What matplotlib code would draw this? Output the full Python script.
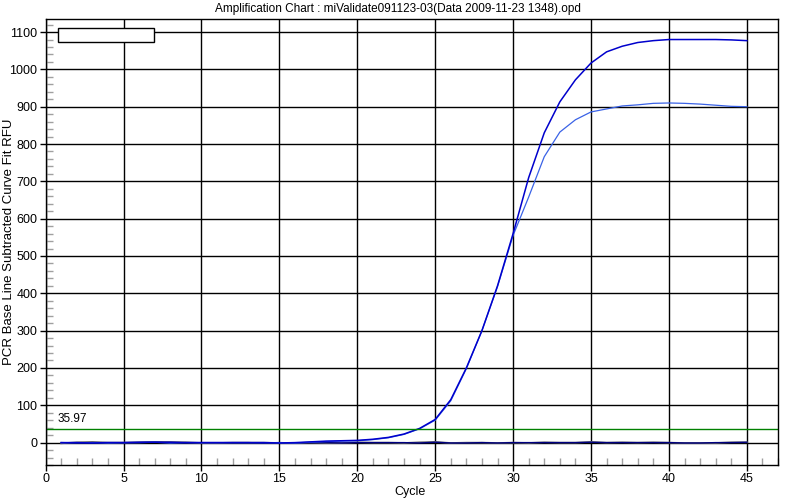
import numpy as np
import matplotlib.pyplot as plt
from matplotlib.patches import Rectangle
from matplotlib.ticker import MultipleLocator

plt.rcParams['font.family'] = ['Liberation Sans', 'DejaVu Sans']

# cycles 1..45
cycles = np.arange(1, 46)

# sample A (dark blue, plateau ~1080)
sample_a = [0, 0, -1, 0, 0, 1, 1, 1, 0, 0, 0, 0, 0, 0, -1, 0, 2, 4, 5, 6,
            9, 14, 23, 38, 62, 115, 200, 300, 420, 560, 710, 830, 913, 972, 1017,
            1047, 1062, 1072, 1077, 1080, 1080, 1080, 1080, 1079, 1077]

# sample B (lighter blue, plateau ~900)
sample_b = [0, 0, 0, -1, 0, 0, 1, -1, 0, 0, 0, 0, 0, 0, 0, -1, 1, 3, 4, 5,
            8, 13, 22, 37, 60, 112, 198, 300, 418, 555, 658, 766, 832, 865, 886,
            894, 902, 905, 909, 910, 909, 907, 904, 901, 900]

# negative controls, flat near zero
neg_1 = [-2, 1, 2, 0, 0, 1, 2, 2, 1, -1, -1, 0, 0, 0, -1, -1, 0, -1, -1, 1,
         0, 0, -1, 1, 2, -1, 0, 0, -1, 0, -1, 1, 0, 0, 2, 0, 1, 0, 1, 0,
         -1, -1, -1, 1, 1]
neg_2 = [0, -1, 0, 0, 0, 0, 1, -1, 0, 0, 0, 0, 0, -1, 0, -1, 0, 0, -1, 0,
         0, 0, 0, -1, 1, -1, -1, 0, -1, 0, 0, 0, 0, 0, 1, 0, 0, 0, 0, 0,
         -1, -1, 0, 0, 1]

threshold = 35.97

title = 'Amplification Chart : miValidate091123-03(Data 2009-11-23 1348).opd'

fig = plt.figure(figsize=(8, 5), dpi=100)
ax = fig.add_axes([0.057, 0.07, 0.9155, 0.892])

ax.plot(cycles, neg_1, color='#707070', lw=1.2)
ax.plot(cycles, neg_2, color='#000080', lw=1.0)
ax.plot(cycles, sample_b, color='#3a62e6', lw=0.9)
ax.plot(cycles, sample_a, color='#0000cc', lw=1.1)

ax.axhline(threshold, color='#008000', lw=1.0)
ax.text(0.75, threshold + 10, '%.2f' % threshold, fontsize=8.5, va='bottom', ha='left')

# empty legend box
ax.add_patch(Rectangle((0.017, 0.948), 0.131, 0.032, transform=ax.transAxes,
                       facecolor='white', edgecolor='black', lw=1.0, zorder=5))

ax.set_xlim(0, 47)
ax.set_ylim(-60, 1135)
ax.xaxis.set_major_locator(MultipleLocator(5))
ax.yaxis.set_major_locator(MultipleLocator(100))
ax.xaxis.set_minor_locator(MultipleLocator(1))
ax.yaxis.set_minor_locator(MultipleLocator(20))
ax.grid(True, which='major', color='black', lw=1.0)
ax.set_axisbelow(True)

ax.tick_params(which='major', direction='out', length=4, labelsize=9, width=1, pad=2)
ax.tick_params(which='minor', direction='in', length=5, color='#a0a0a0', width=1)
for s in ax.spines.values():
    s.set_color('black')
    s.set_linewidth(1.0)

fig.text(0.513, 0.016, 'Cycle', ha='center', va='center', fontsize=9)
fig.text(0.011, 0.516, 'PCR Base Line Subtracted Curve Fit RFU', ha='center', va='center',
         rotation=90, fontsize=9.5)
fig.text(0.498, 0.982, title, ha='center', va='center', fontsize=8.5)

fig.savefig('out.png', dpi=100)
